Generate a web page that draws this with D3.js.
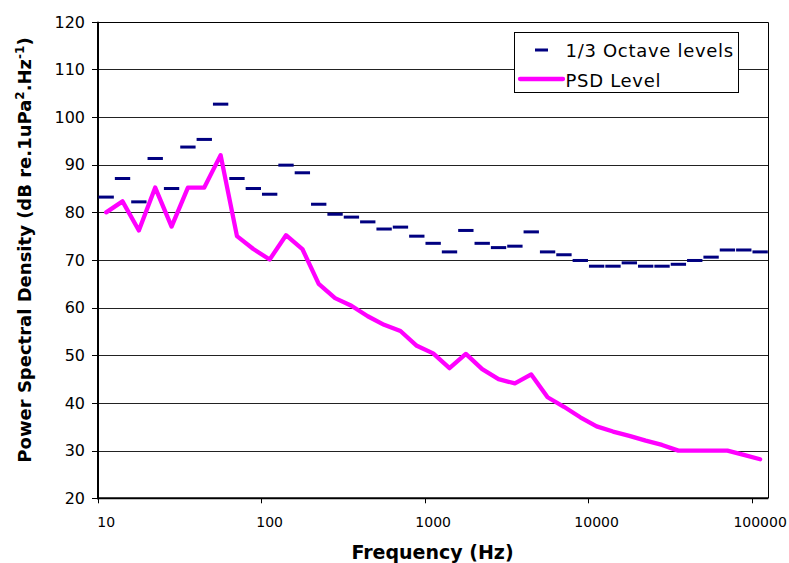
<!DOCTYPE html>
<html>
<head>
<meta charset="utf-8">
<script src="https://cdn.jsdelivr.net/npm/d3@7"></script>
<style>
  html, body { margin: 0; padding: 0; background: #fff; }
  svg { display: block; }
</style>
</head>
<body>
<svg id="chart" width="789" height="563"></svg>
<script>
// One-third octave band centre frequencies (Hz)
const bands = ["10","12.5","16","20","25","31.5","40","50","63","80",
  "100","125","160","200","250","315","400","500","630","800",
  "1000","1250","1600","2000","2500","3150","4000","5000","6300","8000",
  "10000","12500","16000","20000","25000","31500","40000","50000","63000","80000",
  "100000"];

// 1/3 octave band levels (dB re 1uPa)
const octaveLevels = [83.2, 87.1, 82.2, 91.3, 85.0, 93.7, 95.3, 102.7, 87.1, 85.0,
  83.8, 89.9, 88.3, 81.7, 79.6, 79.0, 78.0, 76.5, 76.9, 75.0,
  73.5, 71.7, 76.2, 73.5, 72.6, 72.9, 75.9, 71.7, 71.1, 69.9,
  68.7, 68.7, 69.4, 68.7, 68.7, 69.1, 69.9, 70.6, 72.1, 72.1,
  71.7];

// Power spectral density level (dB re 1uPa^2/Hz)
const psdLevels = [80.0, 82.3, 76.2, 85.2, 77.0, 85.2, 85.2, 92.0, 75.0, 72.3,
  70.1, 75.2, 72.3, 65.0, 62.0, 60.4, 58.2, 56.4, 55.1, 52.0,
  50.4, 47.3, 50.3, 47.1, 45.0, 44.1, 46.0, 41.2, 39.2, 37.0,
  35.1, 34.0, 33.1, 32.1, 31.2, 30.0, 30.0, 30.0, 30.0, 29.1,
  28.2];

// Tick labels
const xTickLabels = ["10", "100", "1000", "10000", "100000"];
const yTicks = [20, 30, 40, 50, 60, 70, 80, 90, 100, 110, 120];

const svg = d3.select("#chart");
const plotLeft = 98, plotRight = 768.3, plotTop = 21.7, plotBottom = 498.3;

const x = d3.scaleBand().domain(bands).range([plotLeft, plotRight]).paddingInner(0).paddingOuter(0);
const bw = x.bandwidth();
const y = d3.scaleLinear().domain([20, 120]).range([plotBottom, plotTop]);
const crisp = v => Math.round(v) + 0.5;

// Horizontal gridlines
svg.append("g").selectAll("line")
  .data(yTicks.filter(t => t > 20 && t < 120))
  .join("line")
  .attr("x1", plotLeft).attr("x2", plotRight)
  .attr("y1", d => crisp(y(d))).attr("y2", d => crisp(y(d)))
  .attr("stroke", "#222").attr("stroke-width", 1);

// Plot frame: thin top/right, heavier axes on left/bottom
svg.append("line").attr("x1", plotLeft).attr("x2", crisp(plotRight))
  .attr("y1", crisp(plotTop)).attr("y2", crisp(plotTop)).attr("stroke", "#000");
svg.append("line").attr("x1", crisp(plotRight)).attr("x2", crisp(plotRight))
  .attr("y1", crisp(plotTop)).attr("y2", plotBottom).attr("stroke", "#000");

// Y axis
const yAxis = svg.append("g");
yAxis.selectAll("line.tick")
  .data(yTicks).join("line")
  .attr("class", "tick")
  .attr("x1", plotLeft - 6).attr("x2", plotLeft)
  .attr("y1", d => crisp(y(d))).attr("y2", d => crisp(y(d)))
  .attr("stroke", "#000");
yAxis.selectAll("text")
  .data(yTicks).join("text")
  .attr("x", 85).attr("y", d => y(d) + 5.8)
  .attr("text-anchor", "end")
  .attr("font-family", "DejaVu Sans, Verdana, sans-serif")
  .attr("font-size", 16)
  .attr("fill", "#000")
  .text(d => d);
yAxis.append("line")
  .attr("x1", plotLeft).attr("x2", plotLeft)
  .attr("y1", plotTop).attr("y2", plotBottom + 1)
  .attr("stroke", "#000").attr("stroke-width", 2);

// X axis: tick marks at band edges, labels centred on bands
const xAxis = svg.append("g");
xAxis.selectAll("line.tick")
  .data(xTickLabels).join("line")
  .attr("class", "tick")
  .attr("x1", d => crisp(x(d))).attr("x2", d => crisp(x(d)))
  .attr("y1", plotBottom).attr("y2", plotBottom + 5)
  .attr("stroke", "#000");
xAxis.selectAll("text")
  .data(xTickLabels).join("text")
  .attr("x", d => x(d) + bw / 2).attr("y", 526.5)
  .attr("text-anchor", "middle")
  .attr("font-family", "DejaVu Sans, Verdana, sans-serif")
  .attr("font-size", 14)
  .attr("fill", "#000")
  .text(d => d);
xAxis.append("line")
  .attr("x1", plotLeft - 1).attr("x2", plotRight)
  .attr("y1", plotBottom).attr("y2", plotBottom)
  .attr("stroke", "#000").attr("stroke-width", 2);

// 1/3 octave levels as short horizontal dashes
svg.append("g").selectAll("rect")
  .data(bands.map((b, i) => ({ b, v: octaveLevels[i] })))
  .join("rect")
  .attr("x", d => x(d.b) + 0.5)
  .attr("width", bw - 1)
  .attr("y", d => y(d.v) - 1.5)
  .attr("height", 3)
  .attr("fill", "#000080");

// PSD level line
const line = d3.line().x(d => x(d.b) + bw / 2).y(d => y(d.v));
svg.append("path")
  .datum(bands.map((b, i) => ({ b, v: psdLevels[i] })))
  .attr("d", line)
  .attr("fill", "none")
  .attr("stroke", "#FF00FF")
  .attr("stroke-width", 4.3)
  .attr("stroke-linejoin", "round")
  .attr("stroke-linecap", "round");

// Legend
const lg = svg.append("g");
lg.append("rect")
  .attr("x", 514.5).attr("y", 32.5).attr("width", 224).attr("height", 60)
  .attr("fill", "#fff").attr("stroke", "#000");
lg.append("rect")
  .attr("x", 535).attr("y", 48.5).attr("width", 13).attr("height", 3)
  .attr("fill", "#000080");
lg.append("line")
  .attr("x1", 520).attr("x2", 563).attr("y1", 79).attr("y2", 79)
  .attr("stroke", "#FF00FF").attr("stroke-width", 4.3).attr("stroke-linecap", "round");
lg.selectAll("text")
  .data([{ t: "1/3 Octave levels", y: 56.5 }, { t: "PSD Level", y: 87 }])
  .join("text")
  .attr("x", 565.5).attr("y", d => d.y)
  .attr("font-family", "DejaVu Sans, Verdana, sans-serif")
  .attr("font-size", 18)
  .attr("letter-spacing", 0.7)
  .attr("fill", "#000")
  .text(d => d.t);

// Axis titles
const yTitle = svg.append("text")
  .attr("transform", "translate(31,250) rotate(-90)")
  .attr("text-anchor", "middle")
  .attr("font-family", "DejaVu Sans, Verdana, sans-serif")
  .attr("font-weight", "bold")
  .attr("font-size", 18)
  .attr("fill", "#000");
yTitle.append("tspan").text("Power Spectral Density (dB re.1uPa");
yTitle.append("tspan").attr("dy", -7).attr("font-size", 12).text("2");
yTitle.append("tspan").attr("dy", 7).text(".Hz");
yTitle.append("tspan").attr("dy", -7).attr("font-size", 12).text("-1");
yTitle.append("tspan").attr("dy", 7).text(")");

svg.append("text")
  .attr("x", 432.5).attr("y", 559)
  .attr("text-anchor", "middle")
  .attr("font-family", "DejaVu Sans, Verdana, sans-serif")
  .attr("font-weight", "bold")
  .attr("font-size", 19)
  .attr("fill", "#000")
  .text("Frequency (Hz)");
</script>
</body>
</html>
